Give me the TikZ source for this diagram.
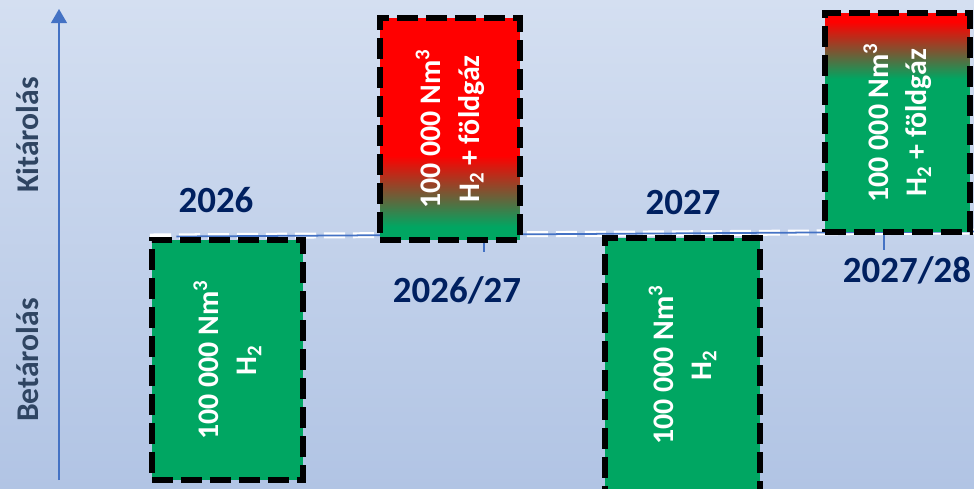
\documentclass[tikz,border=0pt]{standalone}
\usepackage{fontspec}
\setmainfont{Carlito}
\usetikzlibrary{arrows.meta,positioning}
\definecolor{hatterfent}{RGB}{212,223,241}
\definecolor{hatterlent}{RGB}{177,196,228}
\definecolor{kek}{RGB}{68,114,196}
\definecolor{zold}{RGB}{0,166,98}
\definecolor{evszin}{RGB}{0,32,96}
\definecolor{tengelyszin}{RGB}{47,69,98}
\pgfdeclareverticalshading{vorosbolzold}{100bp}{%
    color(0bp)=(zold); color(28bp)=(zold);
    color(44bp)=(red); color(100bp)=(red)}
\pgfdeclareverticalshading{zoldbolvoros}{100bp}{%
    color(0bp)=(zold); color(60bp)=(zold);
    color(73bp)=(red); color(100bp)=(red)}

\begin{document}
\begin{tikzpicture}[
    x=0.02cm,
    y=-0.02cm,
    >=Triangle,
    doboz/.style={
        draw=black,
        line width=3.4pt,
        dash pattern=on 12pt off 4.5pt,
        inner sep=0pt
    },
    szoveg/.style={
        rotate=90,
        text=white,
        align=center,
        font=\bfseries\fontsize{17}{22}\selectfont
    },
    ev/.style={
        text=evszin,
        font=\bfseries\fontsize{21}{25}\selectfont
    },
    irany/.style={
        rotate=90,
        text=tengelyszin,
        font=\bfseries\fontsize{18}{22}\selectfont
    }
]

    % Hatter
    \shade[
        top color=hatterfent,
        bottom color=hatterlent
    ] (0,0) rectangle (974,488);
    \useasboundingbox (0,0) rectangle (974,488);

    % Tengely
    \coordinate (tlent) at (59,480);
    \coordinate (tfent) at (59,9);
    \draw[
        ->,
        kek,
        line width=1pt,
        -{Triangle[width=9pt,length=8pt]}
    ] (tlent) -- (tfent);

    \node[irany] (ki) at (28,135) {Kitárolás};
    \node[irany] (be) at (28,360) {Betárolás};

    % Idovonal
    \coordinate (ido1) at (150,236.5);
    \coordinate (ido2) at (974,231.5);
    \draw[
        white,
        line width=3.4pt,
        dash pattern=on 12pt off 4.5pt
    ] (ido1) -- (ido2);
    \draw[
        kek,
        line width=1pt
    ] ([xshift=15]ido1) -- (ido2);

    % Jelolok
    \coordinate (jel1) at (484,234.5);
    \coordinate (jel1a) at (484,252);
    \draw[kek, line width=0.6pt] (jel1) -- (jel1a);

    \coordinate (jel2) at (884,232);
    \coordinate (jel2a) at (884,250);
    \draw[kek, line width=0.6pt] (jel2) -- (jel2a);

    % Dobozok
    \node[
        doboz,
        fill=zold,
        minimum width=3.02cm,
        minimum height=4.8cm
    ] (be2026) at (227.5,360) {};
    \node[szoveg] (t2026) at (be2026.center)
        {100 000 Nm\textsuperscript{3}\\H\textsubscript{2}};

    \node[
        doboz,
        shading=vorosbolzold,
        minimum width=2.8cm,
        minimum height=4.44cm
    ] (ki2026) at (450,129) {};
    \node[szoveg] (t202627) at (ki2026.center)
        {100 000 Nm\textsuperscript{3}\\H\textsubscript{2} + földgáz};

    \node[
        doboz,
        fill=zold,
        minimum width=3.1cm,
        minimum height=5.08cm
    ] (be2027) at (682.5,365) {};
    \node[szoveg] (t2027) at (be2027.center)
        {100 000 Nm\textsuperscript{3}\\H\textsubscript{2}};

    \node[
        doboz,
        shading=zoldbolvoros,
        minimum width=2.9cm,
        minimum height=4.38cm
    ] (ki2027) at (897.5,122.5) {};
    \node[szoveg] (t202728) at (ki2027.center)
        {100 000 Nm\textsuperscript{3}\\H\textsubscript{2} + földgáz};

    % Evszamok
    \node[ev] (e2026) at (216,200) {2026};
    \node[ev] (e202627) at (457,290) {2026/27};
    \node[ev] (e2027) at (683,203) {2027};
    \node[ev] (e202728) at (907,270) {2027/28};

\end{tikzpicture}
\end{document}
